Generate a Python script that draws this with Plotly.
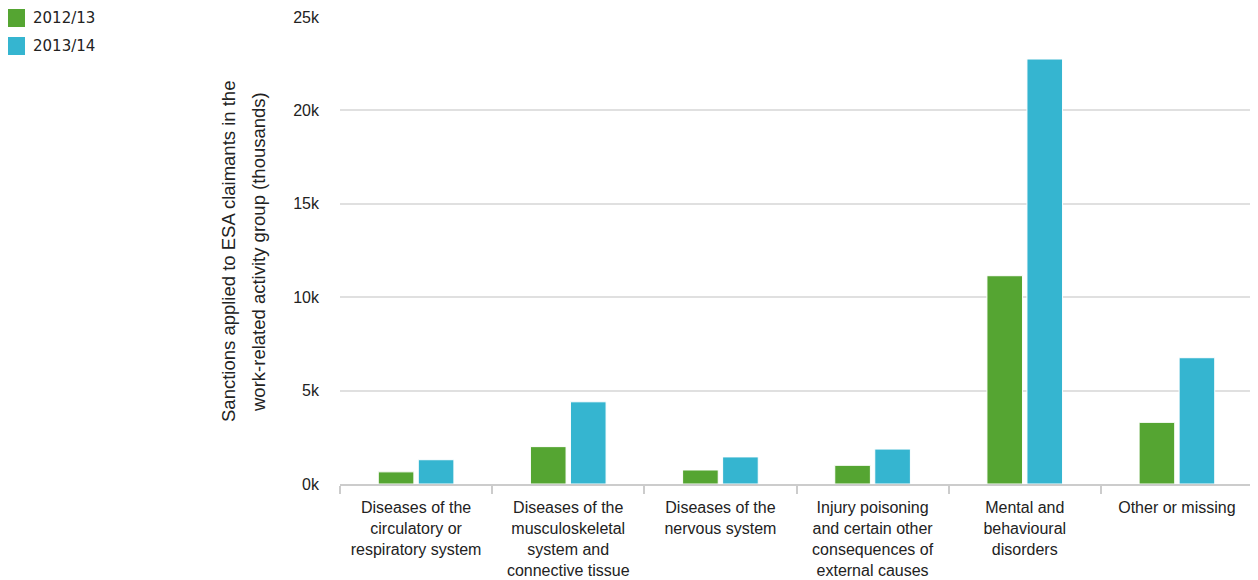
import plotly.graph_objects as go

categories = [
    "Diseases of the<br>circulatory or<br>respiratory system",
    "Diseases of the<br>musculoskeletal<br>system and<br>connective tissue",
    "Diseases of the<br>nervous system",
    "Injury poisoning<br>and certain other<br>consequences of<br>external causes",
    "Mental and<br>behavioural<br>disorders",
    "Other or missing",
]
series_names = ["2012/13", "2013/14"]
values_2012_13 = [650, 2000, 750, 1000, 11150, 3300]
values_2013_14 = [1300, 4400, 1450, 1870, 22750, 6760]
colors = ["#55a532", "#35b5d0"]
y_ticks = [0, 5000, 10000, 15000, 20000, 25000]
y_tick_labels = ["0k", "5k", "10k", "15k", "20k", "25k"]
y_title_lines = ["Sanctions applied to ESA claimants in the",
                 "work-related activity group (thousands)"]

fig = go.Figure()
for name, vals, col in zip(series_names, [values_2012_13, values_2013_14], colors):
    fig.add_trace(go.Bar(
        x=categories, y=vals, name=name,
        marker=dict(color=col, line=dict(color="white", width=1)),
        showlegend=False,
    ))

# page has an 8px body margin; work in page pixel coordinates
OFF = 8
W, H = 1258 - OFF, 580 - OFF
L, T = 340 - OFF, 17 - OFF
R = 5
B = H - (484 - OFF)
pw, ph = W - L - R, H - T - B

def px_x(x):
    return (x - OFF - L) / pw

def px_y(y):
    return 1 - (y - OFF - T) / ph

for i, (name, col) in enumerate(zip(series_names, colors)):
    yc = 18 + i * 28
    fig.add_shape(type="rect", xref="paper", yref="paper",
                  x0=px_x(7), x1=px_x(25), y0=px_y(yc + 9), y1=px_y(yc - 9),
                  fillcolor=col, line=dict(width=0), layer="above")
    fig.add_annotation(xref="paper", yref="paper", x=px_x(31), y=px_y(yc),
                       text=name, showarrow=False, xanchor="left", yanchor="middle",
                       font=dict(family="DejaVu Sans", size=15, color="#222"))

# y axis title (two lines, wider line spacing than plotly's default)
for i, line in enumerate(y_title_lines):
    fig.add_annotation(xref="paper", yref="paper", x=px_x(228 + i * 30), y=px_y(252),
                       text=line, showarrow=False, textangle=-90,
                       xanchor="center", yanchor="middle",
                       font=dict(size=18.5, color="#222"))

fig.update_layout(
    width=W, height=H,
    margin=dict(l=L, r=R, t=T, b=B),
    paper_bgcolor="white", plot_bgcolor="white",
    barmode="group", bargap=0.474, bargroupgap=0.11,
    font=dict(family="Liberation Sans, Arial, sans-serif", size=16, color="#222"),
)
fig.update_xaxes(
    type="category", tickson="boundaries", ticks="outside", ticklen=8,
    tickcolor="#cccccc", tickwidth=2, showline=True, linecolor="#cccccc", linewidth=2,
    showgrid=False, tickfont=dict(size=16, color="#222"), ticklabelstandoff=8,
    automargin=False,
)
fig.update_yaxes(
    range=[0, 25000], tickvals=y_ticks, ticktext=y_tick_labels,
    showgrid=True, gridcolor="#e0e0e0", gridwidth=2, zeroline=False,
    ticks="", ticklabelstandoff=20, tickfont=dict(size=16, color="#222"),
    automargin=False,
)
fig.write_html("out.html")
